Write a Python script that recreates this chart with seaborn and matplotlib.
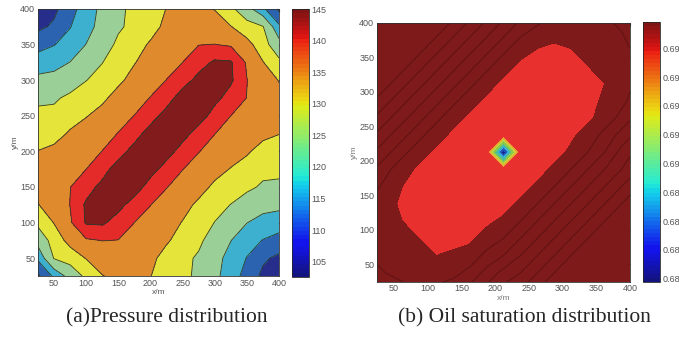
import numpy as np
import matplotlib
matplotlib.use('Agg')
import matplotlib.pyplot as plt
import seaborn as sns
from matplotlib.colors import ListedColormap, Normalize
from matplotlib.cm import ScalarMappable

sns.set_style('white')
plt.rcParams['font.family'] = ['Liberation Sans', 'DejaVu Sans']

# ---------------- data ----------------
# (a) pressure grid nodes (m)
p_x = [25, 50, 75, 100, 125, 150, 175, 200, 225, 250, 275, 300, 325, 350, 375, 400]
p_y = [25, 50, 75, 100, 125, 150, 175, 200, 225, 250, 275, 300, 325, 350, 375, 400]
# rows = y from 25 (first) to 400 (last)
pressure = [
    [107.0, 114.0, 120.1, 125.3, 128.8, 130.2, 130.3, 129.1, 127.1, 125.3, 122.9, 119.3, 115.4, 111.2, 106.9, 102.8],
    [114.0, 124.3, 126.3, 129.2, 131.6, 132.3, 131.5, 130.0, 127.5, 125.5, 123.2, 119.7, 116.3, 112.8, 108.8, 106.9],
    [120.1, 126.3, 130.6, 134.4, 135.1, 134.9, 133.1, 131.3, 129.5, 127.4, 125.2, 121.1, 118.1, 115.1, 112.8, 111.2],
    [125.3, 129.2, 134.4, 140.5, 140.8, 137.9, 135.0, 132.9, 130.8, 128.8, 126.3, 123.9, 120.3, 118.1, 116.3, 115.4],
    [128.8, 131.6, 135.1, 140.8, 143.0, 141.5, 137.9, 135.1, 132.7, 130.4, 128.2, 125.6, 123.9, 121.1, 119.7, 119.3],
    [130.2, 132.3, 134.9, 137.9, 141.5, 144.5, 142.5, 137.8, 135.2, 132.8, 130.5, 128.2, 126.3, 125.2, 123.2, 122.9],
    [130.3, 131.5, 133.1, 135.0, 137.9, 142.5, 145.0, 142.0, 137.8, 135.1, 132.8, 130.4, 128.8, 127.4, 125.5, 125.3],
    [129.1, 130.0, 131.3, 132.9, 135.1, 137.8, 142.0, 145.0, 142.3, 137.8, 135.2, 132.7, 130.8, 129.5, 127.5, 127.1],
    [127.1, 127.5, 129.5, 130.8, 132.7, 135.2, 137.8, 142.3, 145.0, 142.0, 137.8, 135.1, 132.9, 131.3, 130.0, 129.1],
    [125.3, 125.5, 127.4, 128.8, 130.4, 132.8, 135.1, 137.8, 142.0, 145.0, 142.5, 137.9, 135.0, 133.1, 131.5, 130.3],
    [122.9, 123.2, 125.2, 126.3, 128.2, 130.5, 132.8, 135.2, 137.8, 142.5, 144.5, 141.5, 137.9, 134.9, 132.3, 130.2],
    [119.3, 119.7, 121.1, 123.9, 125.6, 128.2, 130.4, 132.7, 135.1, 137.9, 141.5, 143.0, 140.8, 135.1, 131.6, 128.8],
    [115.4, 116.3, 118.1, 120.3, 123.9, 126.3, 128.8, 130.8, 132.9, 135.0, 137.9, 140.8, 140.5, 134.4, 129.2, 125.3],
    [111.2, 112.8, 115.1, 118.1, 121.1, 125.2, 127.4, 129.5, 131.3, 133.1, 134.9, 135.1, 134.4, 130.6, 126.3, 120.1],
    [106.9, 108.8, 112.8, 116.3, 119.7, 123.2, 125.5, 127.5, 130.0, 131.5, 132.3, 131.6, 129.2, 126.3, 124.3, 114.0],
    [102.8, 106.9, 111.2, 115.4, 119.3, 122.9, 125.3, 127.1, 129.1, 130.3, 130.2, 128.8, 125.3, 120.1, 114.0, 107.0],
]
p_levels = [95, 108, 113, 118, 124, 129, 135, 140, 150]
p_ticks = [105, 110, 115, 120, 125, 130, 135, 140, 145]

# (b) oil saturation grid nodes (m)
s_x = [12.5, 37.5, 62.5, 87.5, 112.5, 137.5, 162.5, 187.5, 212.5, 237.5, 262.5,
       287.5, 312.5, 337.5, 362.5, 387.5, 412.5]
s_y = [12.5, 37.5, 62.5, 87.5, 112.5, 137.5, 162.5, 187.5, 212.5, 237.5, 262.5,
       287.5, 312.5, 337.5, 362.5, 387.5, 412.5]
saturation = [
    [0.6982, 0.6981, 0.6980, 0.6979, 0.6980, 0.6981, 0.6983, 0.6986, 0.6989, 0.6991, 0.6994, 0.6997, 0.6997, 0.6997, 0.6997, 0.6997, 0.6997],
    [0.6980, 0.6979, 0.6978, 0.6977, 0.6977, 0.6978, 0.6980, 0.6983, 0.6986, 0.6988, 0.6991, 0.6994, 0.6997, 0.6997, 0.6997, 0.6997, 0.6997],
    [0.6979, 0.6978, 0.6977, 0.6976, 0.6975, 0.6976, 0.6977, 0.6980, 0.6982, 0.6985, 0.6988, 0.6991, 0.6994, 0.6997, 0.6997, 0.6997, 0.6997],
    [0.6979, 0.6977, 0.6976, 0.6975, 0.6974, 0.6973, 0.6974, 0.6977, 0.6979, 0.6982, 0.6985, 0.6988, 0.6991, 0.6994, 0.6997, 0.6997, 0.6997],
    [0.6978, 0.6976, 0.6975, 0.6973, 0.6972, 0.6971, 0.6972, 0.6974, 0.6976, 0.6979, 0.6982, 0.6985, 0.6988, 0.6991, 0.6994, 0.6997, 0.6997],
    [0.6979, 0.6977, 0.6974, 0.6972, 0.6971, 0.6970, 0.6969, 0.6971, 0.6973, 0.6976, 0.6979, 0.6982, 0.6985, 0.6988, 0.6991, 0.6994, 0.6997],
    [0.6981, 0.6978, 0.6975, 0.6973, 0.6970, 0.6969, 0.6968, 0.6968, 0.6970, 0.6973, 0.6976, 0.6979, 0.6982, 0.6985, 0.6988, 0.6991, 0.6994],
    [0.6983, 0.6980, 0.6977, 0.6974, 0.6971, 0.6969, 0.6966, 0.6965, 0.6967, 0.6970, 0.6973, 0.6976, 0.6979, 0.6982, 0.6985, 0.6988, 0.6991],
    [0.6986, 0.6983, 0.6980, 0.6977, 0.6974, 0.6971, 0.6968, 0.6965, 0.6820, 0.6967, 0.6970, 0.6973, 0.6976, 0.6979, 0.6982, 0.6986, 0.6989],
    [0.6989, 0.6986, 0.6983, 0.6980, 0.6977, 0.6974, 0.6971, 0.6968, 0.6965, 0.6965, 0.6968, 0.6971, 0.6974, 0.6977, 0.6980, 0.6983, 0.6986],
    [0.6992, 0.6989, 0.6986, 0.6983, 0.6980, 0.6977, 0.6974, 0.6971, 0.6968, 0.6967, 0.6968, 0.6969, 0.6972, 0.6974, 0.6977, 0.6980, 0.6983],
    [0.6995, 0.6992, 0.6989, 0.6986, 0.6983, 0.6980, 0.6977, 0.6974, 0.6971, 0.6969, 0.6969, 0.6970, 0.6971, 0.6973, 0.6976, 0.6978, 0.6981],
    [0.6997, 0.6995, 0.6992, 0.6989, 0.6986, 0.6983, 0.6980, 0.6977, 0.6974, 0.6971, 0.6970, 0.6971, 0.6972, 0.6974, 0.6975, 0.6977, 0.6980],
    [0.6997, 0.6997, 0.6995, 0.6992, 0.6989, 0.6986, 0.6983, 0.6980, 0.6977, 0.6974, 0.6973, 0.6973, 0.6974, 0.6975, 0.6976, 0.6977, 0.6979],
    [0.6997, 0.6997, 0.6997, 0.6995, 0.6992, 0.6989, 0.6986, 0.6983, 0.6980, 0.6977, 0.6975, 0.6974, 0.6975, 0.6976, 0.6977, 0.6978, 0.6980],
    [0.6997, 0.6997, 0.6997, 0.6997, 0.6995, 0.6992, 0.6989, 0.6986, 0.6983, 0.6980, 0.6978, 0.6977, 0.6976, 0.6977, 0.6978, 0.6979, 0.6981],
    [0.6997, 0.6997, 0.6997, 0.6997, 0.6997, 0.6995, 0.6992, 0.6989, 0.6986, 0.6983, 0.6981, 0.6979, 0.6978, 0.6979, 0.6979, 0.6981, 0.6982],
]
s_levels = [0.680, 0.684, 0.686, 0.688, 0.690, 0.692, 0.694, 0.6955, 0.6975, 0.7005]
s_line_levels = [0.6979, 0.6982, 0.6985, 0.6988, 0.6991, 0.6994]
s_ticks = [0.682, 0.684, 0.686, 0.688, 0.690, 0.692, 0.694, 0.696, 0.698]
s_ticklabels = ['0.68', '0.68', '0.68', '0.68', '0.69', '0.69', '0.69', '0.69', '0.69']
axis_ticks = [50, 100, 150, 200, 250, 300, 350, 400]

# ---------------- styling ----------------
jet = matplotlib.colormaps['jet'](np.linspace(0, 1, 64))[:, :3]
jet_m = ListedColormap(0.85*jet + 0.15*0.5)
p_colors = ['#262d8a', '#2c63b0', '#3eb0cf', '#9acf98', '#e4e43a',
            '#df8a2c', '#e52a2a', '#821c1c']
s_colors = ['#1a2590', '#2056b8', '#3aa8d8', '#48c0a0', '#8cc84a', '#c8d23a',
            '#e8a030', '#e8302e', '#7e1a1a']

fig = plt.figure(figsize=(6.79, 3.40), dpi=100)
ax1 = fig.add_axes([38/679, 1-276/340, 241/679, 267/340])
cax1 = fig.add_axes([292/679, 1-276.7/340, 17/679, 267.4/340])
ax2 = fig.add_axes([377/679, 1-281.5/340, 253/679, 258.8/340])
cax2 = fig.add_axes([643/679, 1-281.7/340, 17.4/679, 259.4/340])

X, Y = np.meshgrid(p_x, p_y)
P = np.array(pressure)
ax1.contourf(X, Y, P, levels=p_levels, colors=p_colors)
ax1.contour(X, Y, P, levels=p_levels[1:-1], colors='#2a3a2a', linewidths=0.6)

X2, Y2 = np.meshgrid(s_x, s_y)
S = np.array(saturation)
ax2.contourf(X2, Y2, S, levels=s_levels, colors=s_colors)
ax2.contour(X2, Y2, S, levels=s_line_levels, colors='#4a0c0c', linewidths=0.7, alpha=0.6)

for ax in (ax1, ax2):
    ax.set_xlim(25, 400); ax.set_ylim(25, 400)
    ax.set_xticks(axis_ticks); ax.set_yticks(axis_ticks)
    ax.tick_params(direction='in', length=2, top=True, right=True,
                   labelsize=6.5, labelcolor='#555555', pad=2)
    for sp in ax.spines.values():
        sp.set_linewidth(0.6); sp.set_color('#333333')
ax1.set_xlabel('x/m', fontsize=6, color='#555555', labelpad=1)
ax1.set_ylabel('y/m', fontsize=6, color='#555555', labelpad=1)
ax2.set_xlabel('x/m', fontsize=6, color='#777777', labelpad=1)
ax2.set_ylabel('y/m', fontsize=6, color='#777777', labelpad=1)

cb1 = fig.colorbar(ScalarMappable(norm=Normalize(102.6, 145), cmap=jet_m), cax=cax1)
cb1.set_ticks(p_ticks)
cb2 = fig.colorbar(ScalarMappable(norm=Normalize(0.6818, 0.6998), cmap=jet_m), cax=cax2)
cb2.set_ticks(s_ticks)
cb2.set_ticklabels(s_ticklabels)
for cb in (cb1, cb2):
    cb.outline.set_linewidth(0.6)
    cb.ax.tick_params(direction='in', length=2, labelsize=6.5,
                      labelcolor='#555555', pad=1.5)

fig.text(167/679, 1-318/340, '(a)Pressure distribution', ha='center', va='center',
         fontsize=15.5, family='Liberation Serif')
fig.text(524/679, 1-318/340, '(b) Oil saturation distribution', ha='center', va='center',
         fontsize=15.5, family='Liberation Serif')
fig.savefig('out.png', dpi=100)
